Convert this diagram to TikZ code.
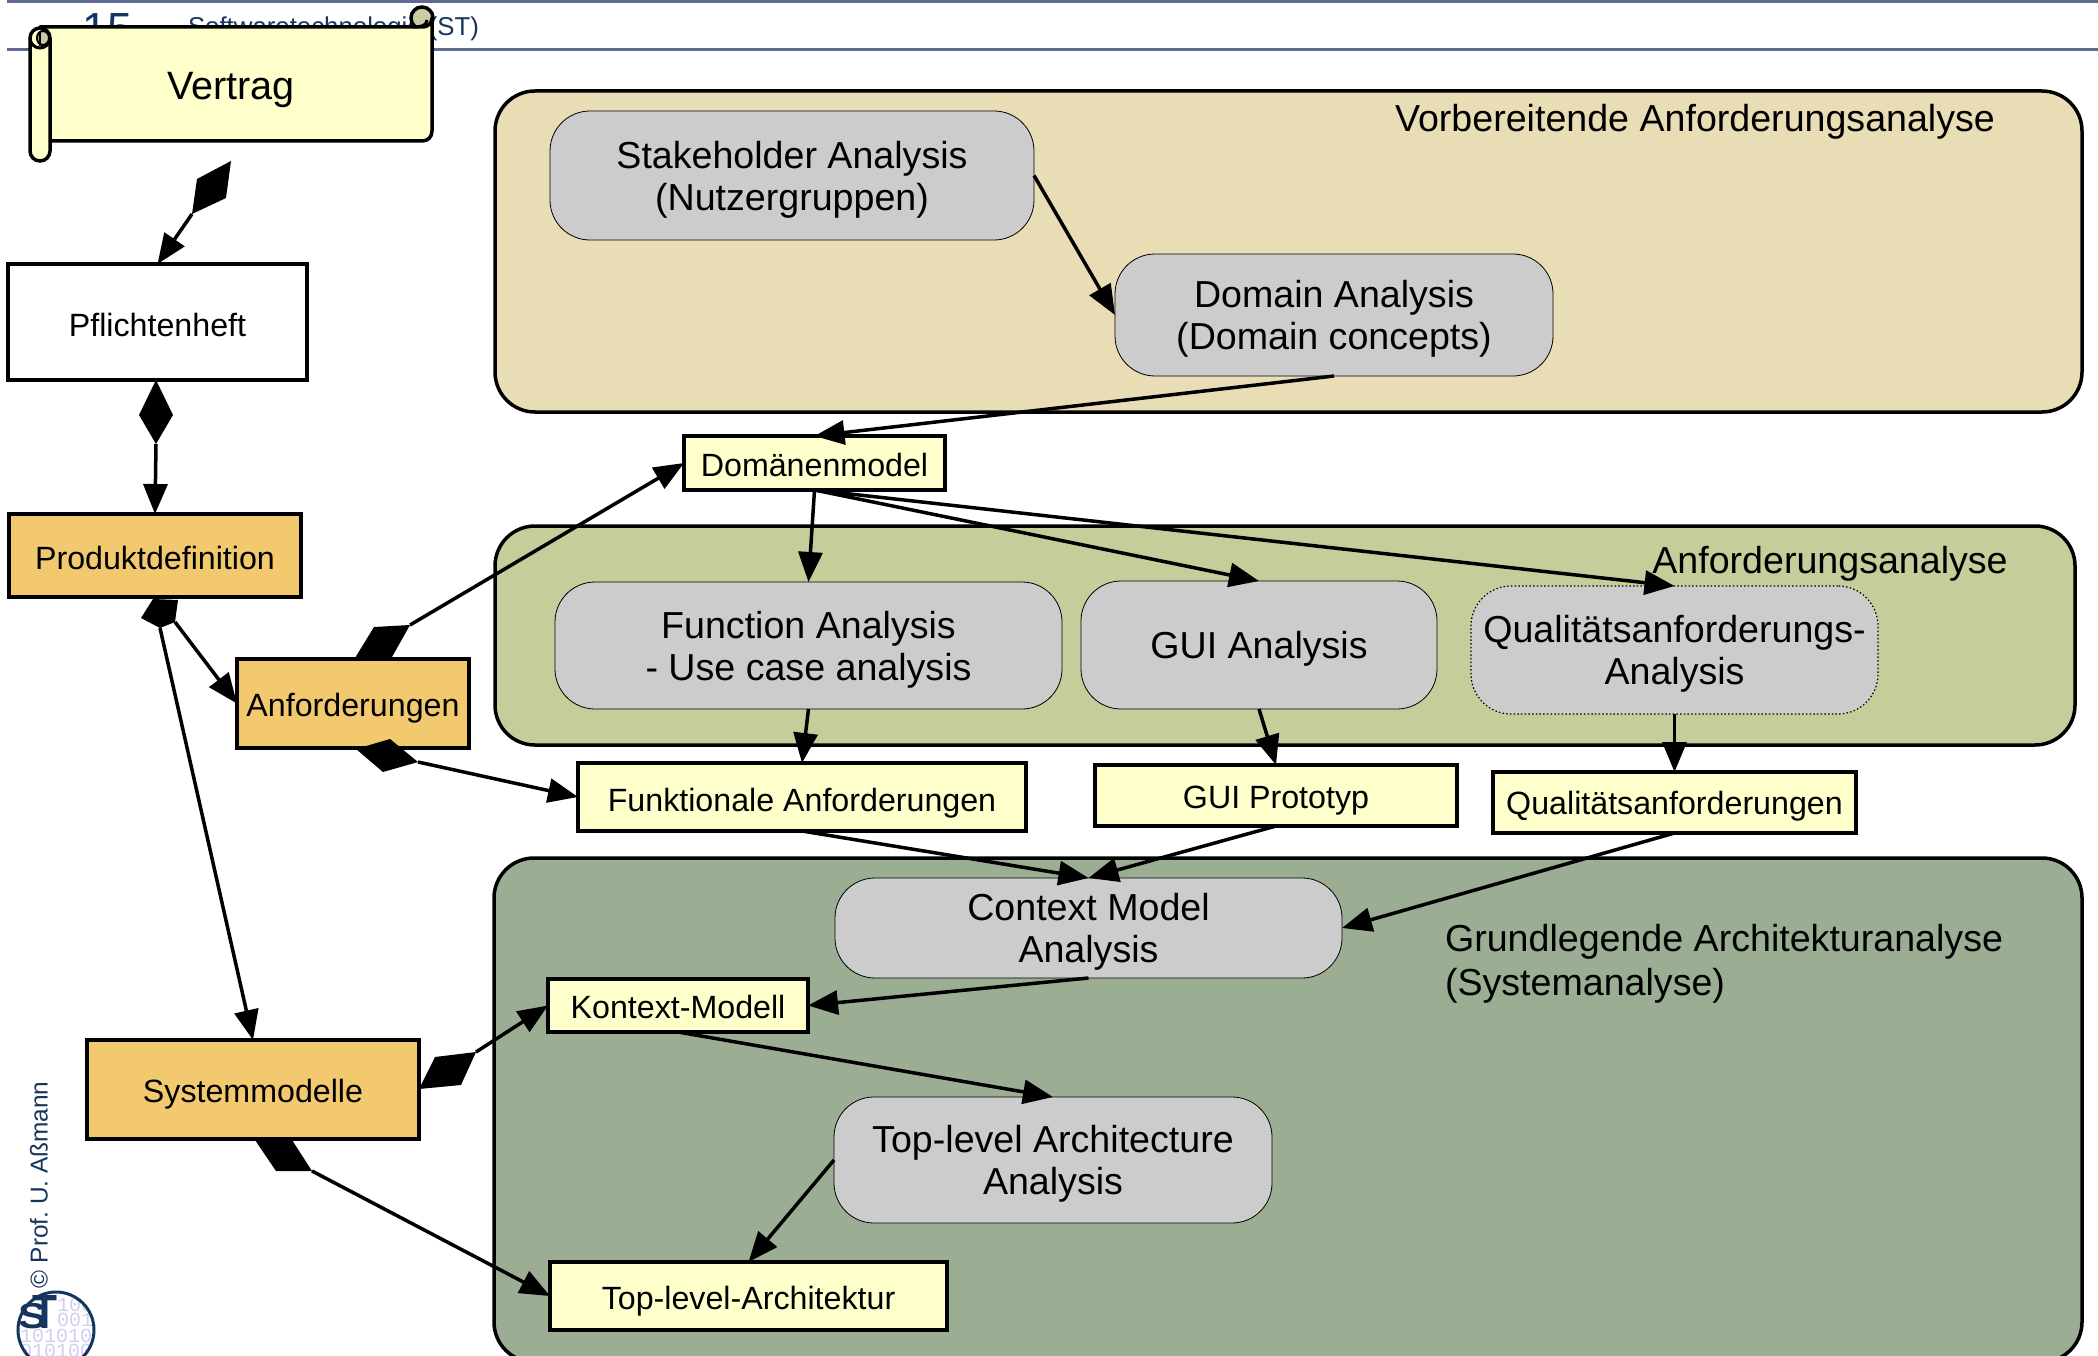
\documentclass[tikz,border=0pt]{standalone}
\usepackage{fontspec}
\setmainfont{Liberation Sans}
\newfontfamily\monof{Liberation Mono}
\usetikzlibrary{arrows.meta}
\definecolor{hdr}{HTML}{5F6B96}
\definecolor{navy}{HTML}{15355F}
\definecolor{pa}{HTML}{E8DDB5}
\definecolor{pb}{HTML}{C5CD9B}
\definecolor{pc}{HTML}{9BAE94}
\definecolor{grayn}{HTML}{CCCCCC}
\definecolor{yel}{HTML}{FFFFCC}
\definecolor{ora}{HTML}{F2C96E}
\definecolor{curl}{HTML}{CCCCA3}
\definecolor{lav}{HTML}{CFCFF0}
\tikzset{
 x=1pt,y=-1pt,
 tshift/.store in=\tsh, tshift=-4pt,
 every node/.style={inner sep=0pt,outer sep=0pt,align=center},
 big/.style={font=\fontsize{37.6}{42}\selectfont},
 small/.style={font=\fontsize{32.2}{38}\selectfont,tshift=-2.5pt},
 panel/.style={draw=black,line width=3.5pt,rounded corners=40pt},
 proc/.style={big,draw=black,line width=.8pt,fill=grayn,rounded corners=40pt},
 yelbox/.style={small,draw=black,line width=3.5pt,fill=yel},
 orabox/.style={small,draw=black,line width=3.5pt,fill=ora},
 conn/.style={line width=3.5pt,-{Triangle[length=30pt,width=24pt]}},
 agg/.style={fill=black,draw=none},
 bintext/.style={anchor=base west,text=lav,font=\monof\fontsize{20}{20}\selectfont},
 logotext/.style={anchor=base west,text=navy},
}
\newcommand{\bx}[7]{\node[#1,minimum width=#5pt-#3pt,minimum height=#6pt-#4pt] (#2) at ({(#3+#5)/2},{(#4+#6)/2}) {};
  \node[#1,draw=none,fill=none,yshift=\tsh] (#2-text) at (#2.center) {#7};}
\begin{document}
\begin{tikzpicture}
\useasboundingbox (0,0) rectangle (2098,1356);
\clip (0,0) rectangle (2098,1356);
% header
\fill[hdr] (7,0) rectangle (2098,3);
\fill[hdr] (7,48) rectangle (2098,51);
\node[anchor=base west,text=navy,font=\fontsize{45}{50}\selectfont] (pageno) at (82,45) {15};
\node[anchor=base west,text=navy,font=\fontsize{25.8}{30}\selectfont] (course) at (188,36) {Softwaretechnologie (ST)};
% scroll
\draw[line width=3.5pt,fill=curl] (422,18) circle (11);
\draw[line width=3.5pt,fill=yel,line join=round]
  (40,27) -- (423,27) .. controls (428,27) and (432,23) .. (432,18) -- (432,131)
  .. controls (432,137) and (428,141) .. (422,141) -- (50,141) -- (50,40) -- cycle;
\draw[line width=3pt] (413,27) .. controls (420,27) and (427,26) .. (427,20);
\draw[line width=3.5pt,fill=yel] (30,38) arc[start angle=180,end angle=360,radius=10] -- (50,151) arc[start angle=0,end angle=180,radius=10] -- cycle;
\draw[line width=3pt] (30,38) arc[start angle=180,end angle=0,radius=10];
\draw[line width=2pt,fill=curl] (43,38) ellipse (6 and 7);
\draw[line width=2.5pt] (40,33) -- (40,46);
\node[font=\fontsize{39.6}{44}\selectfont,minimum width=300pt,minimum height=80pt] (vertrag) at (231,90) {Vertrag};
% panels
\bx{panel,fill=pa}{pvor}{495}{91}{2082}{412}{}
\bx{panel,fill=pb}{panf}{495}{526}{2075}{745}{}
\bx{panel,fill=pc}{pgru}{494}{858}{2082}{1362}{}
\node[big] (tvor) at (1695,122) {Vorbereitende Anforderungsanalyse};
\node[big] (tanf) at (1830,564) {Anforderungsanalyse};
\node[anchor=west,align=left,font=\fontsize{37.6}{44}\selectfont] (tgru) at (1445,964) {Grundlegende Architekturanalyse\\(Systemanalyse)};
% process nodes
\bx{proc}{stake}{550}{111}{1034}{240}{Stakeholder Analysis\\(Nutzergruppen)}
\bx{proc}{domain}{1115}{254}{1553}{376}{Domain Analysis\\(Domain concepts)}
\bx{proc}{func}{555}{582}{1062}{709}{Function Analysis\\- Use case analysis}
\bx{proc}{gui}{1081}{581}{1437}{709}{GUI Analysis}
\bx{proc,line width=1.2pt,dash pattern=on 1.5pt off 2.2pt}{qual}{1471}{586}{1878}{714}{Qualitätsanforderungs-\\Analysis}
\bx{proc}{ctx}{835}{878}{1342}{978}{Context Model\\Analysis}
\bx{proc}{arch}{834}{1097}{1272}{1223}{Top-level Architecture\\Analysis}
% artefacts
\bx{yelbox,tshift=-1.5pt}{dom}{684}{436}{945}{490}{Domänenmodel}
\bx{yelbox,tshift=-6pt}{funk}{578}{763}{1026}{831}{Funktionale Anforderungen}
\bx{yelbox,tshift=-5pt}{guip}{1095}{765}{1457}{826}{GUI Prototyp}
\bx{yelbox,tshift=-4pt}{qanf}{1493}{772}{1856}{833}{Qualitätsanforderungen}
\bx{yelbox,tshift=-1pt}{kon}{548}{979}{808}{1032}{Kontext-Modell}
\bx{yelbox,tshift=-5pt}{top}{550}{1262}{947}{1330}{Top-level-Architektur}
\bx{small,draw=black,line width=3.5pt,fill=white}{pf}{8}{264}{307}{380}{Pflichtenheft}
\bx{orabox}{prod}{9}{514}{301}{597}{Produktdefinition}
\bx{orabox,tshift=-5pt}{anf}{237}{659}{469}{748}{Anforderungen}
\bx{orabox,tshift=-5pt}{sys}{87}{1040}{419}{1139}{Systemmodelle}
% aggregation diamonds
\fill[agg] (231,161) -- (197,179) -- (192,214) -- (226,198) -- cycle;
\coordinate (d1) at (192,214);
\fill[agg] (156,380) -- (173,415) -- (156,444) -- (139,415) -- cycle;
\coordinate (d2) at (156,444);
\fill[agg] (178,600) -- (175,622) -- (160,628) -- (141,618) -- (153,599) -- cycle;
\coordinate (d3) at (175,622);
\coordinate (d4) at (160,628);
\fill[agg] (355,658) -- (374,627) -- (410,625) -- (392,657) -- cycle;
\coordinate (d5) at (410,625);
\fill[agg] (356,749) -- (390,739) -- (418,762) -- (383,772) -- cycle;
\coordinate (d6) at (418,762);
\fill[agg] (419,1089) -- (435,1057) -- (476,1052) -- (461,1085) -- cycle;
\coordinate (d7) at (476,1052);
\fill[agg] (255,1140) -- (276,1171) -- (312,1171) -- (292,1140) -- cycle;
\coordinate (d8) at (312,1171);
% connectors
\draw[conn] (d1) -- (pf.north);
\draw[conn] (d2) -- (prod.north);
\draw[conn] (d3) -- (anf.west);
\draw[conn] (d4) -- (sys.north);
\draw[conn] (d5) -- (dom.west);
\draw[conn] (d6) -- (funk.west);
\draw[conn] (d7) -- (kon.west);
\draw[conn] (d8) -- (top.west);
\draw[conn] (stake.east) -- (domain.west);
\draw[conn] (domain.south) -- (dom.north);
\draw[conn] (dom.south) -- (func.north);
\draw[conn] (dom.south) -- (gui.north);
\draw[conn] (dom.south) -- (qual.north);
\draw[conn] (func.south) -- (funk.north);
\draw[conn] (gui.south) -- (guip.north);
\draw[conn] (qual.south) -- (qanf.north);
\draw[conn] (funk.south) -- (ctx.north);
\draw[conn] (guip.south) -- (ctx.north);
\draw[conn] (qanf.south) -- (ctx.east);
\draw[conn] (ctx.south) -- (kon.east);
\draw[conn] (kon.south) -- (arch.north);
\draw[conn] (arch.west) -- (top.north);
% footer
\node[rotate=90,anchor=west,text=navy,font=\fontsize{24.4}{28}\selectfont\frenchspacing] (author) at (39,1288) {© Prof. U. Aßmann};
\begin{scope}
\clip (56,1330) circle (38);
\node[bintext] (b1) at (57,1311) {100};
\node[bintext] (b2) at (57,1326) {001};
\node[bintext] (b3) at (20,1342) {101010};
\node[bintext] (b4) at (20,1357) {010100};
\end{scope}
\draw[navy,line width=3pt] (56,1330) circle (38);
\node[logotext,font=\bfseries\fontsize{36}{36}\selectfont] (logoS) at (18,1328) {\scalebox{1.2}[1]{S}};
\node[logotext,font=\bfseries\fontsize{48}{48}\selectfont] (logoT) at (32,1328) {\scalebox{.85}[1]{T}};
\end{tikzpicture}
\end{document}
